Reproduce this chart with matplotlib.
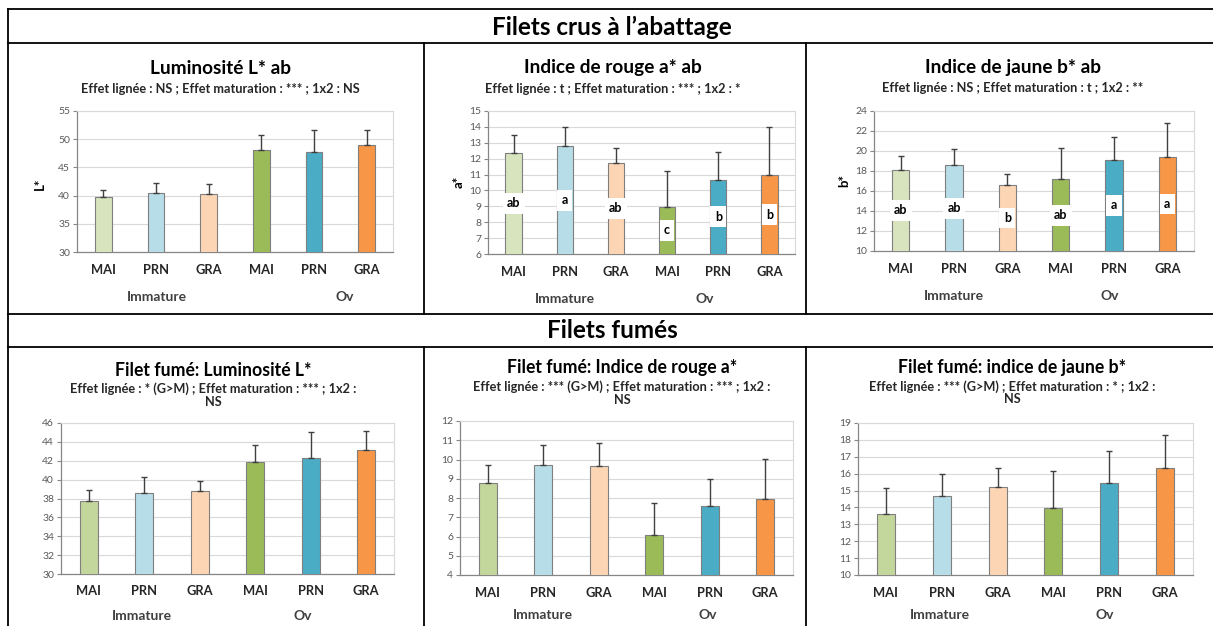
import matplotlib
matplotlib.use('Agg')
import matplotlib.pyplot as plt
from matplotlib.lines import Line2D
from matplotlib.transforms import blended_transform_factory

plt.rcParams['font.family'] = ['Lato', 'DejaVu Sans']

W, H = 1213, 626

# ---------------- data ----------------
lignees = ['MAI', 'PRN', 'GRA', 'MAI', 'PRN', 'GRA']
groupes = ['Immature', 'Ov']

colors_raw = ['#d7e4bd', '#b7dee8', '#fcd5b5', '#9bbb59', '#4bacc6', '#f79646']
colors_smoked = ['#c3d69b', '#b7dee8', '#fcd5b5', '#9bbb59', '#4bacc6', '#f79646']

raw_L_mean = [39.7, 40.5, 40.2, 48.1, 47.8, 48.9]
raw_L_sd = [1.3, 1.8, 1.9, 2.6, 3.8, 2.7]

raw_a_mean = [12.37, 12.77, 11.74, 8.98, 10.68, 10.95]
raw_a_sd = [1.13, 1.22, 0.93, 2.26, 1.76, 3.02]
raw_a_letters = ['ab', 'a', 'ab', 'c', 'b', 'b']

raw_b_mean = [18.1, 18.55, 16.6, 17.17, 19.1, 19.4]
raw_b_sd = [1.4, 1.7, 1.1, 3.1, 2.3, 3.45]
raw_b_letters = ['ab', 'ab', 'b', 'ab', 'a', 'a']

sm_L_mean = [37.7, 38.6, 38.8, 41.9, 42.3, 43.1]
sm_L_sd = [1.2, 1.7, 1.1, 1.8, 2.7, 2.0]

sm_a_mean = [8.8, 9.7, 9.65, 6.1, 7.6, 7.95]
sm_a_sd = [0.9, 1.05, 1.2, 1.65, 1.4, 2.1]

sm_b_mean = [13.6, 14.65, 15.2, 13.95, 15.45, 16.35]
sm_b_sd = [1.55, 1.35, 1.15, 2.2, 1.9, 1.95]

# ---------------- layout ----------------
panels = [
    dict(box=(77, 111, 393, 252), ylim=(30, 55, 5), mean=raw_L_mean, sd=raw_L_sd,
         colors=colors_raw, letters=None, ylabel='L*', ylab_pos=(40, 184),
         title='Luminosité L* ab', title_pos=(220, 68), title_fs=13.7,
         sub=['Effet lignée : NS ; Effet maturation : *** ; 1x2 : NS'], sub_y=[89],
         xt_y=270, grp=[(157, 297), (345, 297)]),
    dict(box=(488, 111, 795, 254), ylim=(6, 15, 1), mean=raw_a_mean, sd=raw_a_sd,
         colors=colors_raw, letters=raw_a_letters, ylabel='a*', ylab_pos=(459, 182),
         title='Indice de rouge a* ab', title_pos=(613, 67), title_fs=13.7,
         sub=['Effet lignée : t ; Effet maturation : *** ; 1x2 : *'], sub_y=[89],
         xt_y=272, grp=[(565, 299), (705, 299)]),
    dict(box=(874, 111, 1194, 251), ylim=(10, 24, 2), mean=raw_b_mean, sd=raw_b_sd,
         colors=colors_raw, letters=raw_b_letters, ylabel='b*', ylab_pos=(844, 181),
         title='Indice de jaune b* ab', title_pos=(1013, 68), title_fs=13.7,
         sub=['Effet lignée : NS ; Effet maturation : t ; 1x2 : **'], sub_y=[88],
         xt_y=269, grp=[(954, 296), (1110, 296)]),
    dict(box=(61, 423, 394, 574), ylim=(30, 46, 2), mean=sm_L_mean, sd=sm_L_sd,
         colors=colors_smoked, letters=None, ylabel=None, ylab_pos=None,
         title='Filet fumé: Luminosité L*', title_pos=(213, 370), title_fs=12.7,
         sub=['Effet lignée : * (G>M) ; Effet maturation : *** ; 1x2 :', 'NS'], sub_y=[389, 402],
         xt_y=591, grp=[(142, 616), (303, 616)]),
    dict(box=(460, 421, 793, 575), ylim=(4, 12, 1), mean=sm_a_mean, sd=sm_a_sd,
         colors=colors_smoked, letters=None, ylabel=None, ylab_pos=None,
         title='Filet fumé: Indice de rouge a*', title_pos=(622, 368), title_fs=12.7,
         sub=['Effet lignée : *** (G>M) ; Effet maturation : *** ; 1x2 :', 'NS'], sub_y=[387, 400],
         xt_y=593, grp=[(543, 615), (708, 615)]),
    dict(box=(858, 423, 1193, 575), ylim=(10, 19, 1), mean=sm_b_mean, sd=sm_b_sd,
         colors=colors_smoked, letters=None, ylabel=None, ylab_pos=None,
         title='Filet fumé: indice de jaune b*', title_pos=(1012, 368), title_fs=12.7,
         sub=['Effet lignée : *** (G>M) ; Effet maturation : * ; 1x2 :', 'NS'], sub_y=[387, 399],
         xt_y=593, grp=[(940, 615), (1105, 615)]),
]

fig = plt.figure(figsize=(W / 100, H / 100), dpi=100)
fig.patch.set_facecolor('white')


def fx(x):
    return x / W


def fy(y):
    return 1 - y / H


# table borders
def hline(y, x0, x1):
    fig.add_artist(Line2D([fx(x0), fx(x1)], [fy(y), fy(y)], color='black', lw=1.3))


def vline(x, y0, y1):
    fig.add_artist(Line2D([fx(x), fx(x)], [fy(y0), fy(y1)], color='black', lw=1.3))


for yy in (9, 43, 314, 347):
    hline(yy, 8, 1213)
vline(8, 9, 626)
for xx in (424, 806):
    vline(xx, 43, 314)
    vline(xx, 347, 626)

fig.text(fx(612), fy(27), 'Filets crus à l’abattage', ha='center', va='center',
         fontsize=17.5, fontweight='bold')
fig.text(fx(612), fy(331), 'Filets fumés', ha='center', va='center',
         fontsize=17.5, fontweight='bold')

for p in panels:
    l, t, r, b = p['box']
    ax = fig.add_axes([fx(l), fy(b), (r - l) / W, (b - t) / H])
    ymin, ymax, step = p['ylim']
    xs = list(range(len(lignees)))
    ax.bar(xs, p['mean'], width=0.32, color=p['colors'], edgecolor='#7f7f7f',
           linewidth=0.8, zorder=3)
    ax.errorbar(xs, p['mean'], yerr=[[0] * len(xs), p['sd']], fmt='none',
                ecolor='#404040', elinewidth=1.0, capsize=2.3, capthick=1.0, zorder=4)
    if p['letters']:
        for i, (m, let) in enumerate(zip(p['mean'], p['letters'])):
            ax.text(i, (ymin + m) / 2, let, ha='center', va='center', fontsize=9,
                    fontweight='bold', color='black', zorder=5,
                    bbox=dict(boxstyle='square,pad=0.35', fc='white', ec='none'))
    ax.set_xlim(-0.5, len(xs) - 0.5)
    ax.set_ylim(ymin, ymax)
    ticks = []
    v = ymin
    while v <= ymax + 1e-9:
        ticks.append(v)
        v += step
    ax.set_yticks(ticks)
    ax.set_yticklabels([str(int(tk)) for tk in ticks])
    ax.set_xticks(xs)
    ax.set_xticklabels([])
    ax.yaxis.grid(True, color='#d9d9d9', linewidth=0.8)
    ax.set_axisbelow(True)
    for s in ('left', 'bottom'):
        ax.spines[s].set_color('#868686')
        ax.spines[s].set_linewidth(0.9)
    for s in ('top', 'right'):
        ax.spines[s].set_color('#d9d9d9')
        ax.spines[s].set_linewidth(0.8)
    ax.tick_params(axis='y', direction='out', length=3, color='#868686', width=0.8,
                   labelsize=7.5, labelcolor='#595959', pad=2)
    ax.tick_params(axis='x', length=0)

    trans = blended_transform_factory(ax.transData, fig.transFigure)
    for i, lab in enumerate(lignees):
        ax.text(i, fy(p['xt_y']), lab, transform=trans, ha='center', va='center',
                fontsize=9.3, fontweight='bold', color='#262626')
    for (gx, gy), g in zip(p['grp'], groupes):
        fig.text(fx(gx), fy(gy), g, ha='center', va='center', fontsize=10,
                 fontweight='bold', color='#404040')
    if p['ylabel']:
        fig.text(fx(p['ylab_pos'][0]), fy(p['ylab_pos'][1]), p['ylabel'], rotation=90,
                 ha='center', va='center', fontsize=9.5, fontweight='bold')
    fig.text(fx(p['title_pos'][0]), fy(p['title_pos'][1]), p['title'], ha='center',
             va='center', fontsize=p['title_fs'], fontweight='bold', color='black')
    for line, sy in zip(p['sub'], p['sub_y']):
        fig.text(fx(p['title_pos'][0]), fy(sy), line, ha='center', va='center',
                 fontsize=9.2, fontweight='bold', color='#262626')

fig.savefig('out.png', dpi=100, facecolor='white')
